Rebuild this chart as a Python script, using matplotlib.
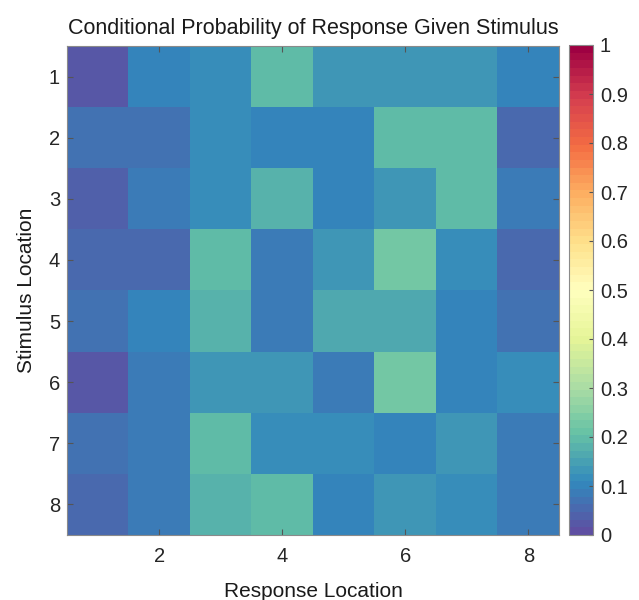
import matplotlib
matplotlib.use("Agg")
import matplotlib.pyplot as plt
import numpy as np
from matplotlib.colors import ListedColormap

plt.rcParams['font.family'] = ['Liberation Sans', 'DejaVu Sans']

stimulus = [1, 2, 3, 4, 5, 6, 7, 8]
response = [1, 2, 3, 4, 5, 6, 7, 8]
row1 = [0.03, 0.10, 0.12, 0.19, 0.14, 0.14, 0.14, 0.10]
row2 = [0.07, 0.07, 0.12, 0.10, 0.10, 0.19, 0.19, 0.05]
row3 = [0.04, 0.09, 0.12, 0.18, 0.10, 0.14, 0.19, 0.08]
row4 = [0.06, 0.05, 0.19, 0.09, 0.14, 0.22, 0.11, 0.05]
row5 = [0.07, 0.10, 0.18, 0.08, 0.16, 0.16, 0.10, 0.07]
row6 = [0.02, 0.09, 0.14, 0.14, 0.08, 0.22, 0.10, 0.12]
row7 = [0.07, 0.09, 0.19, 0.12, 0.12, 0.10, 0.14, 0.09]
row8 = [0.05, 0.09, 0.18, 0.20, 0.10, 0.14, 0.12, 0.09]
x_ticks = [2, 4, 6, 8]
cbar_ticks = [0, 0.1, 0.2, 0.3, 0.4, 0.5, 0.6, 0.7, 0.8, 0.9, 1]
cbar_labels = ['0', '0.1', '0.2', '0.3', '0.4', '0.5', '0.6', '0.7', '0.8', '0.9', '1']

data = np.array([row1, row2, row3, row4, row5, row6, row7, row8])

base = plt.get_cmap('Spectral_r')
cmap = ListedColormap(base(np.linspace(0, 1, 64)))

fig = plt.figure(figsize=(6.39, 6.0), dpi=100)
ax = fig.add_axes([67/639, 1-535/600, (559-67)/639, (535-46)/600])
im = ax.imshow(data, cmap=cmap, vmin=0, vmax=1, aspect='auto',
               extent=[0.5, 8.5, 8.5, 0.5], interpolation='nearest')
ax.set_xticks(x_ticks)
ax.set_yticks(stimulus)
ax.tick_params(direction='in', top=True, right=True, labelsize=14.5,
               color='#555555', length=4, labelcolor='#262626')
ax.tick_params(axis='x', pad=9)
ax.tick_params(axis='y', pad=5)
for s in ax.spines.values():
    s.set_color('#8a8a8a')
ax.set_xlabel('Response Location', fontsize=15, color='#1a1a1a', labelpad=11)
ax.set_ylabel('Stimulus Location', fontsize=15, color='#1a1a1a', labelpad=9)
ax.set_title('Conditional Probability of Response Given Stimulus', fontsize=15.5, color='#1a1a1a', pad=9)

cax = fig.add_axes([569/639, 1-535/600, (593-569)/639, (535-45)/600])
cb = fig.colorbar(im, cax=cax, ticks=cbar_ticks)
cb.ax.set_yticklabels(cbar_labels)
cb.ax.tick_params(direction='in', labelsize=14.5, color='#555555', length=3, labelcolor='#262626', pad=5)
cb.outline.set_edgecolor('#8a8a8a')

fig.savefig('out.png', dpi=100)
